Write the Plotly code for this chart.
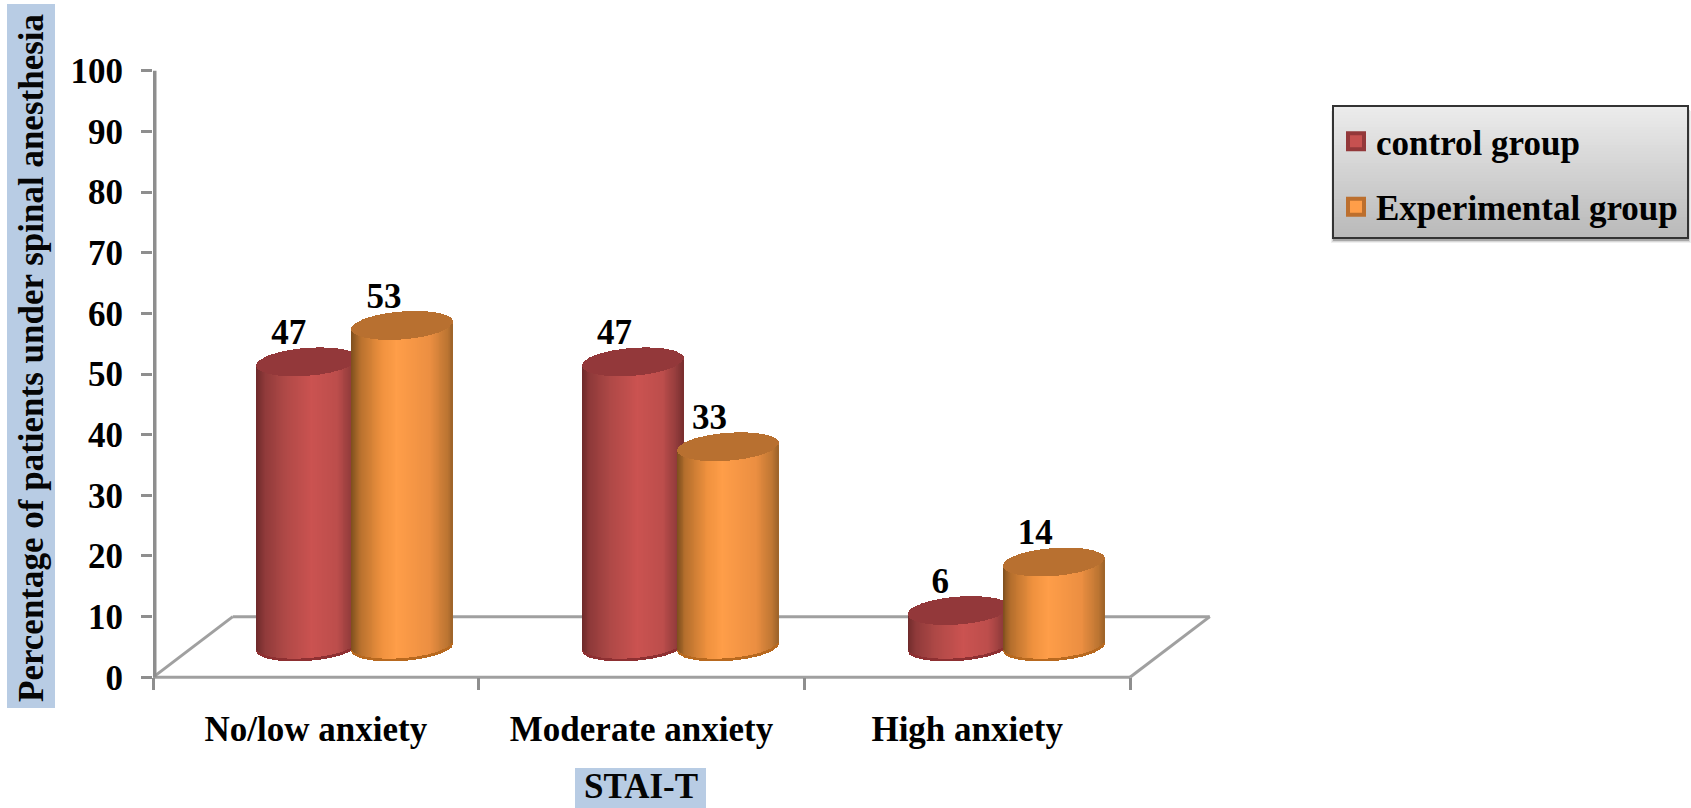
import numpy as np
import plotly.graph_objects as go

# Chart data
categories = ["No/low anxiety", "Moderate anxiety", "High anxiety"]
control_values = [47, 47, 6]
experimental_values = [53, 33, 14]
y_ticks = list(range(0, 101, 10))
x_title = "STAI-T"
y_title = "Percentage of patients under spinal anesthesia"

W, H = 1691, 808
FONT = "Liberation Serif"
FONT_SIZE = 35
GREY = "#8E8E8E"

# Pixel frame of the value axis and category axis
PX_X0, PX_X_UNIT = 153.0, 325.67
PX_Y0, PX_Y_UNIT = 677.3, 6.066
plot_left, plot_right = PX_X0, 1216.0
plot_top, plot_bottom = 66.0, 690.0
x_range = [0, (plot_right - PX_X0) / PX_X_UNIT]
y_range = [(PX_Y0 - plot_bottom) / PX_Y_UNIT, (PX_Y0 - plot_top) / PX_Y_UNIT]

# Pseudo-3D floor: depth in data units, bars stand at mid depth
DEPTH_X, DEPTH_Y = 0.245, 10.0
BASE = DEPTH_Y / 2
CYL_W = 0.31
ELL_H = 2.3
ELL_TILT = 0.6
N_SLICES = 110


def hex_rgb(c):
    return np.array([int(c[i:i + 2], 16) for i in (1, 3, 5)], float)


def shade(stops, u):
    pos = [s[0] for s in stops]
    rgb = np.array([hex_rgb(s[1]) for s in stops])
    return "rgb(%d,%d,%d)" % tuple(np.interp(u, pos, rgb[:, k]) for k in range(3))


def cylinder_trace(name, values, left, stops, top_col, rim_col):
    xs, bases, heights, colors = [], [], [], []
    dx = CYL_W / N_SLICES
    for i, v in enumerate(values):
        for n in range(N_SLICES):
            u = (n + 0.5) / N_SLICES
            t = 2 * u - 1
            x = i + left + u * CYL_W
            h = ELL_H * np.sqrt(max(1 - t * t, 0))
            tilt = ELL_TILT * t
            low = BASE + tilt - h
            # side of the cylinder, lower rim, then the lid
            xs += [x, x, x]
            bases += [low, low, BASE + v + tilt - h]
            heights += [v, 0.45, 2 * h]
            colors += [shade(stops, u), rim_col, top_col]
    return go.Bar(
        name=name, x=xs, y=heights, base=bases, width=dx * 1.25,
        marker=dict(color=colors, line=dict(width=0)),
        showlegend=False, hoverinfo="skip",
    )


red_stops = [(0, "#6E2A2B"), (0.08, "#8F3A3A"), (0.28, "#AF4947"), (0.55, "#CB5351"),
             (0.8, "#BD4E4C"), (0.95, "#8E3A3A"), (1, "#7A2F2F")]
orange_stops = [(0, "#7E4F1E"), (0.08, "#B56F2D"), (0.3, "#F0923F"), (0.45, "#FF9E49"),
                (0.78, "#EC8F42"), (0.95, "#BC7532"), (1, "#9E642A")]
RED_LEFT, ORANGE_LEFT = 0.319, 0.611

fig = go.Figure()
fig.add_trace(cylinder_trace("control group", control_values, RED_LEFT,
                             red_stops, "#93383A", "#8E3032"))
fig.add_trace(cylinder_trace("Experimental group", experimental_values, ORANGE_LEFT,
                             orange_stops, "#B87030", "#B8691F"))

# Value labels above each cylinder
LABEL_UP, LABEL_LEFT = 9.4, 0.057
for values, left in ((control_values, RED_LEFT), (experimental_values, ORANGE_LEFT)):
    fig.add_trace(go.Scatter(
        x=[i + left + CYL_W / 2 - LABEL_LEFT for i in range(3)],
        y=[v + LABEL_UP for v in values],
        text=[str(v) for v in values], mode="text",
        textfont=dict(family=FONT, size=FONT_SIZE, color="black", weight=700),
        showlegend=False, hoverinfo="skip",
    ))

# Legend entries
for name, fill, edge, grp in (("control group", "#C65150", "#93383A", "a"),
                              ("Experimental group", "#FF9E49", "#BC6F2E", "b")):
    fig.add_trace(go.Scatter(
        x=[None], y=[None], mode="markers", name=name, legendgroup=grp,
        marker=dict(symbol="square", size=16, color=fill, line=dict(color=edge, width=4)),
    ))

shapes = []


def paper_rect(x0, y0, x1, y1, fill):
    return dict(type="rect", xref="paper", yref="paper", layer="below",
                x0=x0 / W, x1=x1 / W, y0=1 - y1 / H, y1=1 - y0 / H,
                fillcolor=fill, line=dict(width=0))


# Title bands
shapes.append(paper_rect(7, 4, 55, 708, "#B8CCE4"))
shapes.append(paper_rect(575, 768, 706, 808, "#B8CCE4"))

# Legend panel: soft shadow, vertical grey ramp, dark frame
LX0, LY0, LX1, LY1 = 1333, 106, 1688, 238
for k, col in enumerate(("#EFEFEF", "#D8D8D8", "#A8A8A8")):
    off = 5 - k
    shapes.append(paper_rect(LX0 - 2 + k, LY0 + off, LX1 + off - 2, LY1 + off, col))
ramp = 44
for k in range(ramp):
    f = k / (ramp - 1)
    g = int(236 + (186 - 236) * f)
    y0 = LY0 + (LY1 - LY0) * k / ramp
    y1 = LY0 + (LY1 - LY0) * (k + 1) / ramp + 0.6
    shapes.append(paper_rect(LX0, y0, LX1, y1, f"rgb({g},{g},{g})"))
shapes.append(dict(type="rect", xref="paper", yref="paper", layer="below",
                   x0=LX0 / W, x1=LX1 / W, y0=1 - LY1 / H, y1=1 - LY0 / H,
                   line=dict(color="#333333", width=2)))

# Floor outline and axis lines sit behind the cylinders
n_cat = len(categories)
floor = [(0, 0, DEPTH_X, DEPTH_Y), (DEPTH_X, DEPTH_Y, n_cat + DEPTH_X, DEPTH_Y),
         (n_cat + DEPTH_X, DEPTH_Y, n_cat, 0), (n_cat, 0, 0, 0)]
for x0, y0, x1, y1 in floor:
    shapes.append(dict(type="line", xref="x", yref="y", layer="below",
                       x0=x0, y0=y0, x1=x1, y1=y1,
                       line=dict(color="#A0A0A0", width=3)))
shapes.append(dict(type="line", xref="x", yref="y", layer="below",
                   x0=0, y0=0, x1=0, y1=100, line=dict(color=GREY, width=7)))

annotations = [
    dict(text=y_title, xref="paper", yref="paper", x=32 / W, y=1 - 358 / H,
         textangle=-90, showarrow=False, xanchor="center", yanchor="middle",
         font=dict(family=FONT, size=FONT_SIZE, color="#050505", weight=700)),
    dict(text=x_title, xref="paper", yref="paper", x=641 / W, y=1 - 786 / H,
         showarrow=False, xanchor="center", yanchor="middle",
         font=dict(family=FONT, size=FONT_SIZE, color="#050505", weight=700)),
]

fig.update_layout(
    width=W, height=H, autosize=False,
    margin=dict(l=0, r=0, t=0, b=0, autoexpand=False),
    paper_bgcolor="white", plot_bgcolor="rgba(0,0,0,0)",
    barmode="overlay", bargap=0,
    shapes=shapes, annotations=annotations,
    xaxis=dict(
        domain=[plot_left / W, plot_right / W], range=x_range,
        anchor="free", position=1 - PX_Y0 / H,
        tickmode="array", tickvals=[i + 0.5 for i in range(n_cat)], ticktext=categories,
        ticks="", showgrid=False, zeroline=False, showline=False,
        ticklabelstandoff=28,
        tickfont=dict(family=FONT, size=FONT_SIZE, color="black", weight=700),
        minor=dict(tickmode="array", tickvals=list(range(n_cat + 1)), ticks="outside",
                   ticklen=12, tickwidth=2.5, tickcolor=GREY, showgrid=False),
    ),
    yaxis=dict(
        domain=[1 - plot_bottom / H, 1 - plot_top / H], range=y_range,
        tickmode="array", tickvals=y_ticks, ticks="outside", ticklen=11, tickwidth=2.5,
        tickcolor=GREY, showgrid=False, zeroline=False, showline=False,
        ticklabelstandoff=11,
        tickfont=dict(family=FONT, size=FONT_SIZE, color="black", weight=700),
    ),
    legend=dict(
        x=1336 / W, y=1 - 112 / H, xanchor="left", yanchor="top",
        bgcolor="rgba(0,0,0,0)", borderwidth=0, tracegroupgap=17, itemwidth=30,
        font=dict(family=FONT, size=FONT_SIZE, color="black", weight=700),
    ),
    showlegend=True,
)

fig.write_html("out.html", config={"displayModeBar": False})
